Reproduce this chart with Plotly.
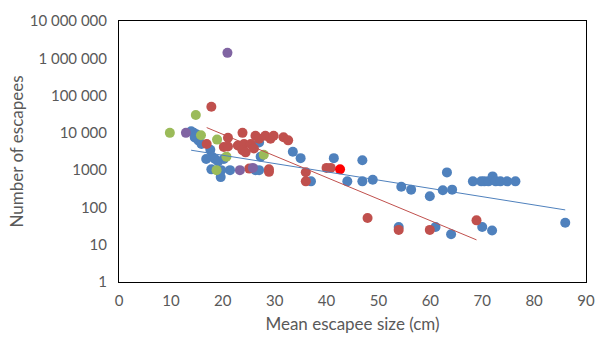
import numpy as np
import plotly.graph_objects as go

blue_x = [13.9, 14.4, 15.0, 14.6, 15.3, 15.9, 17.6, 17.9, 16.8, 18.5, 19.1, 20.2, 17.8, 19.7, 19.6,
          21.4, 26.3, 27.0, 27.0, 27.3, 33.5, 35.0, 37.0, 41.4, 44.0, 46.9, 46.9, 48.9, 53.9, 54.4,
          56.3, 59.9, 61.0, 62.4, 63.2, 64.0, 64.2, 68.2, 69.8, 70.0, 70.4, 71.2, 72.0, 71.9, 72.6,
          73.5, 74.8, 76.4, 86.0]
blue_y = [11000, 10000, 9000, 7500, 6300, 5000, 3500, 2300, 2000, 2000, 1700, 2000, 1050, 1000, 650,
          1000, 1000, 1000, 5500, 2300, 3100, 2100, 500, 2100, 500, 1850, 500, 550, 30, 360,
          300, 200, 30, 290, 870, 19, 300, 500, 500, 30, 500, 500, 680, 24, 500,
          500, 500, 500, 39]

red_x = [16.9, 17.8, 20.2, 21.0, 21.0, 22.9, 23.8, 24.1, 25.4, 26.0, 23.8, 24.4, 26.3, 27.0, 28.2,
         29.2, 29.8, 31.7, 32.6, 25.1, 28.9, 28.9, 36.0, 36.0, 40.0, 40.8, 47.9, 53.9, 59.9, 68.9]
red_y = [5000, 50000, 4200, 7400, 4300, 4600, 10000, 5000, 5000, 3800, 3400, 3000, 8400, 7000, 8400,
         7000, 8400, 7600, 6300, 1100, 900, 1050, 880, 500, 1150, 1150, 52, 25, 25, 45]

green_x = [9.8, 14.8, 15.8, 18.9, 18.8, 20.7, 27.9]
green_y = [10000, 30000, 8600, 6600, 1000, 2300, 2600]

purple_x = [12.9, 20.9, 23.3, 25.8]
purple_y = [10000, 1400000, 1000, 1150]

bright_x = [42.6]
bright_y = [1050]

y_tick_vals = [1, 10, 100, 1000, 10000, 100000, 1000000, 10000000]
y_tick_text = ["1", "10", "100", "1000", "10 000", "100 000", "1 000 000", "10 000 000"]

BLUE = "#4F81BD"
RED = "#C0504D"
GREEN = "#9BBB59"
PURPLE = "#8064A2"
BRIGHT = "#FF0000"
TEXT = "#595959"


def exp_trend(xs, ys):
    xs = np.array(xs, dtype=float)
    ly = np.log10(np.array(ys, dtype=float))
    b, a = np.polyfit(xs, ly, 1)
    tx = np.array([xs.min(), xs.max()])
    return tx, 10 ** (a + b * tx)


fig = go.Figure()

for xs, ys, c in [(blue_x, blue_y, BLUE), (red_x, red_y, RED), (green_x, green_y, GREEN),
                  (purple_x, purple_y, PURPLE), (bright_x, bright_y, BRIGHT)]:
    fig.add_trace(go.Scatter(x=xs, y=ys, mode="markers",
                             marker=dict(color=c, size=10, line=dict(width=0)),
                             showlegend=False))

for xs, ys, c in [(blue_x, blue_y, BLUE), (red_x, red_y, RED)]:
    tx, ty = exp_trend(xs, ys)
    fig.add_trace(go.Scatter(x=tx, y=ty, mode="lines", line=dict(color=c, width=1),
                             showlegend=False, hoverinfo="skip"))

fig.update_layout(
    width=606, height=342,
    margin=dict(l=119, r=11, t=21, b=54),
    paper_bgcolor="white", plot_bgcolor="white",
    font=dict(family="Lato", color=TEXT, size=15),
    showlegend=False,
)
fig.update_xaxes(range=[0, 90], dtick=10, tick0=0, showgrid=False, zeroline=False,
                 showline=True, linecolor="black", linewidth=1, mirror=True,
                 ticks="", tickfont=dict(size=15, color=TEXT), ticklabelstandoff=5,
                 title=dict(text="Mean escapee size (cm)", font=dict(size=17, color=TEXT), standoff=10))
fig.update_yaxes(type="log", range=[0, 7], tickvals=y_tick_vals, ticktext=y_tick_text,
                 showgrid=False, zeroline=False, showline=True, linecolor="black", linewidth=1,
                 mirror=True, ticks="", tickfont=dict(size=15, color=TEXT),
                 ticklabelstandoff=8,
                 title=dict(text="Number of escapees", font=dict(size=17, color=TEXT), standoff=1))

fig.write_html("out.html", config={"displayModeBar": False},
               post_script="document.body.style.margin='0';")
